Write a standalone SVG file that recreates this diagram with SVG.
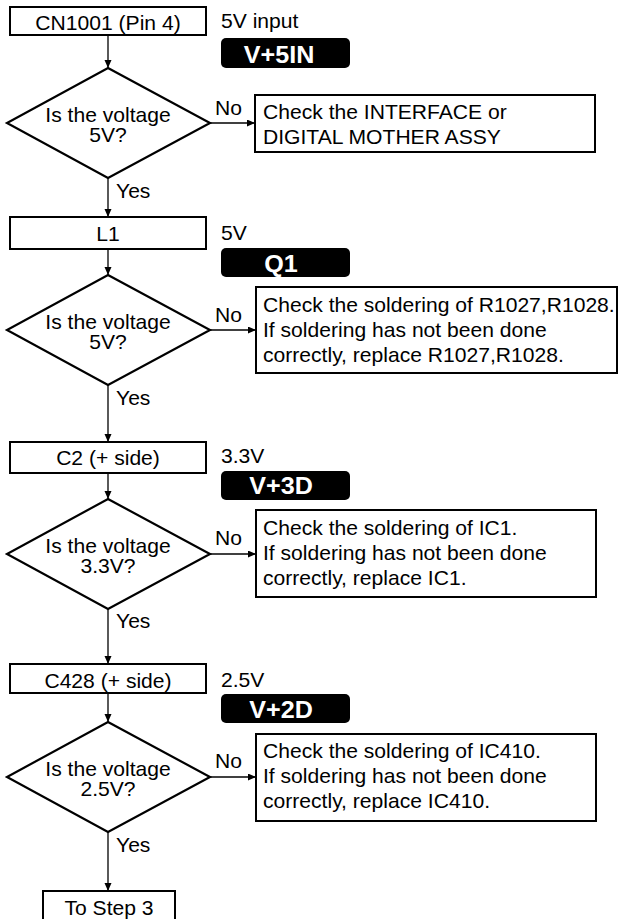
<svg xmlns="http://www.w3.org/2000/svg" width="619" height="919" viewBox="0 0 619 919">
<style>
.box{fill:#fff;stroke:#000;stroke-width:2}
.dia{fill:#fff;stroke:#000;stroke-width:2.2;stroke-linejoin:miter}
.lbl{fill:#000}
.con{fill:none;stroke:#000;stroke-width:1.3}
text{font-family:"Liberation Sans",Arial,Helvetica,sans-serif;font-size:20px;fill:#000}
.c{text-anchor:middle}
.w{font-weight:bold;font-size:23.5px;fill:#fff;text-anchor:middle}
</style>
<defs>
<marker id="ah" markerUnits="userSpaceOnUse" markerWidth="9" markerHeight="8" refX="8" refY="3.5" orient="auto">
<path d="M0,0 L8,3.5 L0,7 z" fill="#000"/>
</marker>
</defs>
<rect width="619" height="919" fill="#fff"/>

<g id="connectors">
<path class="con" d="M108,35 V68" marker-end="url(#ah)"/>
<path class="con" d="M108,178 V217" marker-end="url(#ah)"/>
<path class="con" d="M108,249 V275" marker-end="url(#ah)"/>
<path class="con" d="M108,385 V442" marker-end="url(#ah)"/>
<path class="con" d="M108,473 V499" marker-end="url(#ah)"/>
<path class="con" d="M108,609 V664" marker-end="url(#ah)"/>
<path class="con" d="M108,693 V722" marker-end="url(#ah)"/>
<path class="con" d="M108,832 V891" marker-end="url(#ah)"/>
<path class="con" d="M210,123 H255" marker-end="url(#ah)"/>
<path class="con" d="M210,330 H256" marker-end="url(#ah)"/>
<path class="con" d="M210,554 H256" marker-end="url(#ah)"/>
<path class="con" d="M210,777 H256" marker-end="url(#ah)"/>
<text transform="translate(215,115) scale(1.055,1)">No</text>
<text transform="translate(215,322) scale(1.055,1)">No</text>
<text transform="translate(215,545) scale(1.055,1)">No</text>
<text transform="translate(215,768) scale(1.055,1)">No</text>
<text transform="translate(116,198) scale(1.055,1)">Yes</text>
<text transform="translate(116,405) scale(1.055,1)">Yes</text>
<text transform="translate(116,628) scale(1.055,1)">Yes</text>
<text transform="translate(116,852) scale(1.055,1)">Yes</text>
</g>

<g id="n1">
<rect class="box" x="10" y="7" width="196" height="28"/>
<text class="c" transform="translate(108,30) scale(1.055,1)">CN1001 (Pin 4)</text>
<text transform="translate(221,28) scale(1.055,1)">5V input</text>
<rect class="lbl" x="221" y="38" width="129" height="30" rx="5"/>
<text class="w" transform="translate(279,63) scale(1.07,1)">V+5IN</text>
</g>

<g id="d1">
<polygon class="dia" points="108,68 210,123 108,178 7,123"/>
<text class="c" transform="translate(108,122) scale(1.055,1)">Is the voltage</text>
<text class="c" transform="translate(108,142) scale(1.055,1)">5V?</text>
</g>

<g id="r1">
<rect class="box" x="255" y="95" width="340" height="57"/>
<text transform="translate(263,119) scale(1.055,1)">Check the INTERFACE or</text>
<text transform="translate(263,144) scale(1.055,1)">DIGITAL MOTHER ASSY</text>
</g>

<g id="n2">
<rect class="box" x="10" y="217" width="196" height="32"/>
<text class="c" transform="translate(108,241) scale(1.055,1)">L1</text>
<text transform="translate(221,240) scale(1.055,1)">5V</text>
<rect class="lbl" x="221" y="248" width="129" height="29" rx="5"/>
<text class="w" transform="translate(281,272) scale(1.07,1)">Q1</text>
</g>

<g id="d2">
<polygon class="dia" points="108,275 210,330 108,385 7,330"/>
<text class="c" transform="translate(108,329) scale(1.055,1)">Is the voltage</text>
<text class="c" transform="translate(108,349) scale(1.055,1)">5V?</text>
</g>

<g id="r2">
<rect class="box" x="256" y="287" width="361" height="86"/>
<text transform="translate(263,312) scale(1.055,1)">Check the soldering of R1027,R1028.</text>
<text transform="translate(263,337) scale(1.055,1)">If soldering has not been done</text>
<text transform="translate(263,362) scale(1.055,1)">correctly, replace R1027,R1028.</text>
</g>

<g id="n3">
<rect class="box" x="10" y="442" width="196" height="31"/>
<text class="c" transform="translate(108,465) scale(1.055,1)">C2 (+ side)</text>
<text transform="translate(221,463) scale(1.055,1)">3.3V</text>
<rect class="lbl" x="221" y="471" width="129" height="29" rx="5"/>
<text class="w" transform="translate(281,494) scale(1.07,1)">V+3D</text>
</g>

<g id="d3">
<polygon class="dia" points="108,499 210,554 108,609 7,554"/>
<text class="c" transform="translate(108,553) scale(1.055,1)">Is the voltage</text>
<text class="c" transform="translate(108,573) scale(1.055,1)">3.3V?</text>
</g>

<g id="r3">
<rect class="box" x="256" y="510" width="340" height="87"/>
<text transform="translate(263,535) scale(1.055,1)">Check the soldering of IC1.</text>
<text transform="translate(263,560) scale(1.055,1)">If soldering has not been done</text>
<text transform="translate(263,585) scale(1.055,1)">correctly, replace IC1.</text>
</g>

<g id="n4">
<rect class="box" x="10" y="664" width="196" height="29"/>
<text class="c" transform="translate(108,688) scale(1.055,1)">C428 (+ side)</text>
<text transform="translate(221,687) scale(1.055,1)">2.5V</text>
<rect class="lbl" x="221" y="694" width="129" height="29" rx="5"/>
<text class="w" transform="translate(281,718) scale(1.07,1)">V+2D</text>
</g>

<g id="d4">
<polygon class="dia" points="108,722 210,777 108,832 7,777"/>
<text class="c" transform="translate(108,776) scale(1.055,1)">Is the voltage</text>
<text class="c" transform="translate(108,796) scale(1.055,1)">2.5V?</text>
</g>

<g id="r4">
<rect class="box" x="256" y="734" width="340" height="87"/>
<text transform="translate(263,758) scale(1.055,1)">Check the soldering of IC410.</text>
<text transform="translate(263,783) scale(1.055,1)">If soldering has not been done</text>
<text transform="translate(263,808) scale(1.055,1)">correctly, replace IC410.</text>
</g>

<g id="n5">
<rect class="box" x="43" y="891" width="132" height="40"/>
<text class="c" transform="translate(109,915) scale(1.055,1)">To Step 3</text>
</g>
</svg>
